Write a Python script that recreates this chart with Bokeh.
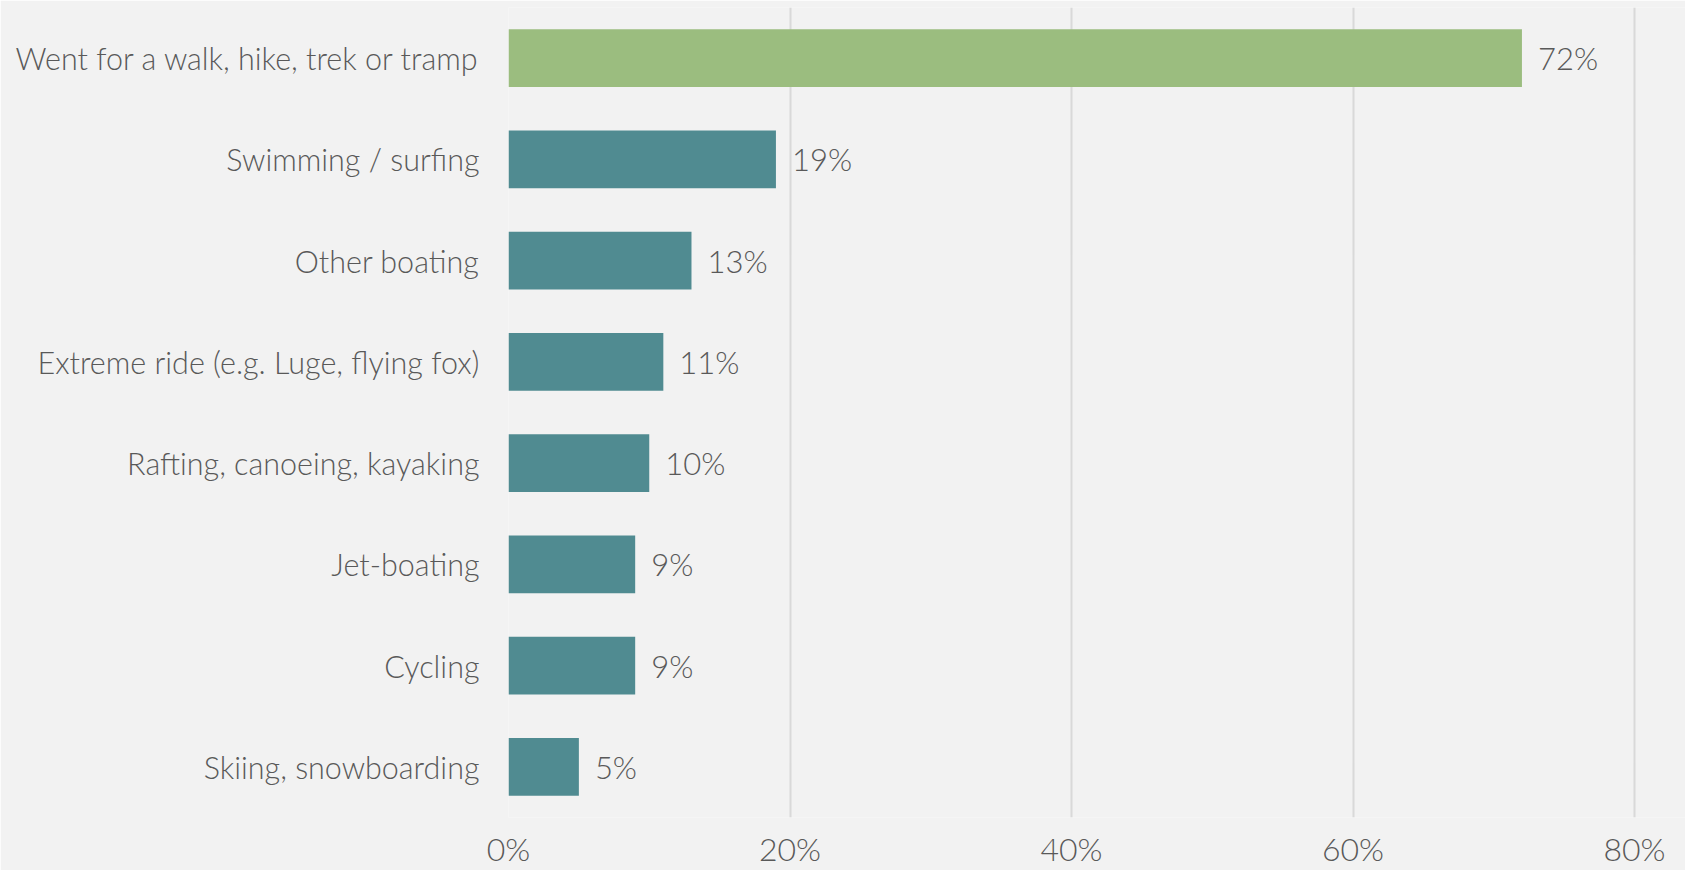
from bokeh.plotting import figure
from bokeh.models import ColumnDataSource, FactorRange, Range1d, FixedTicker
from bokeh.core.properties import value
from bokeh.embed import file_html
from bokeh.resources import INLINE

categories = ["Went for a walk, hike, trek or tramp", "Swimming / surfing", "Other boating",
              "Extreme ride (e.g. Luge, flying fox)", "Rafting, canoeing, kayaking",
              "Jet-boating", "Cycling", "Skiing, snowboarding"]
values = [72, 19, 13, 11, 10, 9, 9, 5]
value_labels = ["72%", "19%", "13%", "11%", "10%", "9%", "9%", "5%"]
tick_values = [0, 20, 40, 60, 80]
tick_labels = ["0%", "20%", "40%", "60%", "80%"]

GREEN = "#9BBD7F"
TEAL = "#508B91"
BG = "#F2F2F2"
TEXT = "#595959"
FONT = "Lato Light"

colors = [GREEN] + [TEAL] * (len(categories) - 1)
src = ColumnDataSource(dict(cat=categories, val=values, lab=value_labels, color=colors))

p = figure(width=1685, height=870, output_backend="svg", toolbar_location=None,
           y_range=FactorRange(*list(reversed(categories))),
           x_range=Range1d(0, 83.62),
           min_border_left=508, min_border_right=0, min_border_top=7, min_border_bottom=53)

p.hbar(y="cat", right="val", height=0.57, source=src, fill_color="color", line_color=None)
p.text(x="val", y="cat", text="lab", source=src, x_offset=16, text_baseline="middle",
       text_align="left", text_font=value(FONT), text_font_size="31px", text_color=TEXT)

p.background_fill_color = BG
p.border_fill_color = BG
p.outline_line_color = None

p.ygrid.grid_line_color = None
p.xgrid.grid_line_color = "#D9D9D9"
p.xgrid.grid_line_width = 2
p.xaxis.ticker = FixedTicker(ticks=tick_values)
p.xaxis.major_label_overrides = {t: l for t, l in zip(tick_values, tick_labels)}

for ax in (p.xaxis, p.yaxis):
    ax.axis_line_color = None
    ax.major_tick_line_color = None
    ax.minor_tick_line_color = None
    ax.major_tick_out = 0
    ax.major_tick_in = 0
    ax.major_label_text_color = TEXT
    ax.major_label_text_font = FONT

p.yaxis.major_label_text_font_size = "30.5px"
p.yaxis.major_label_standoff = 29
p.xaxis.major_label_text_font_size = "32px"
p.xaxis.major_label_standoff = 11

open("out.html", "w").write(file_html(p, INLINE))
